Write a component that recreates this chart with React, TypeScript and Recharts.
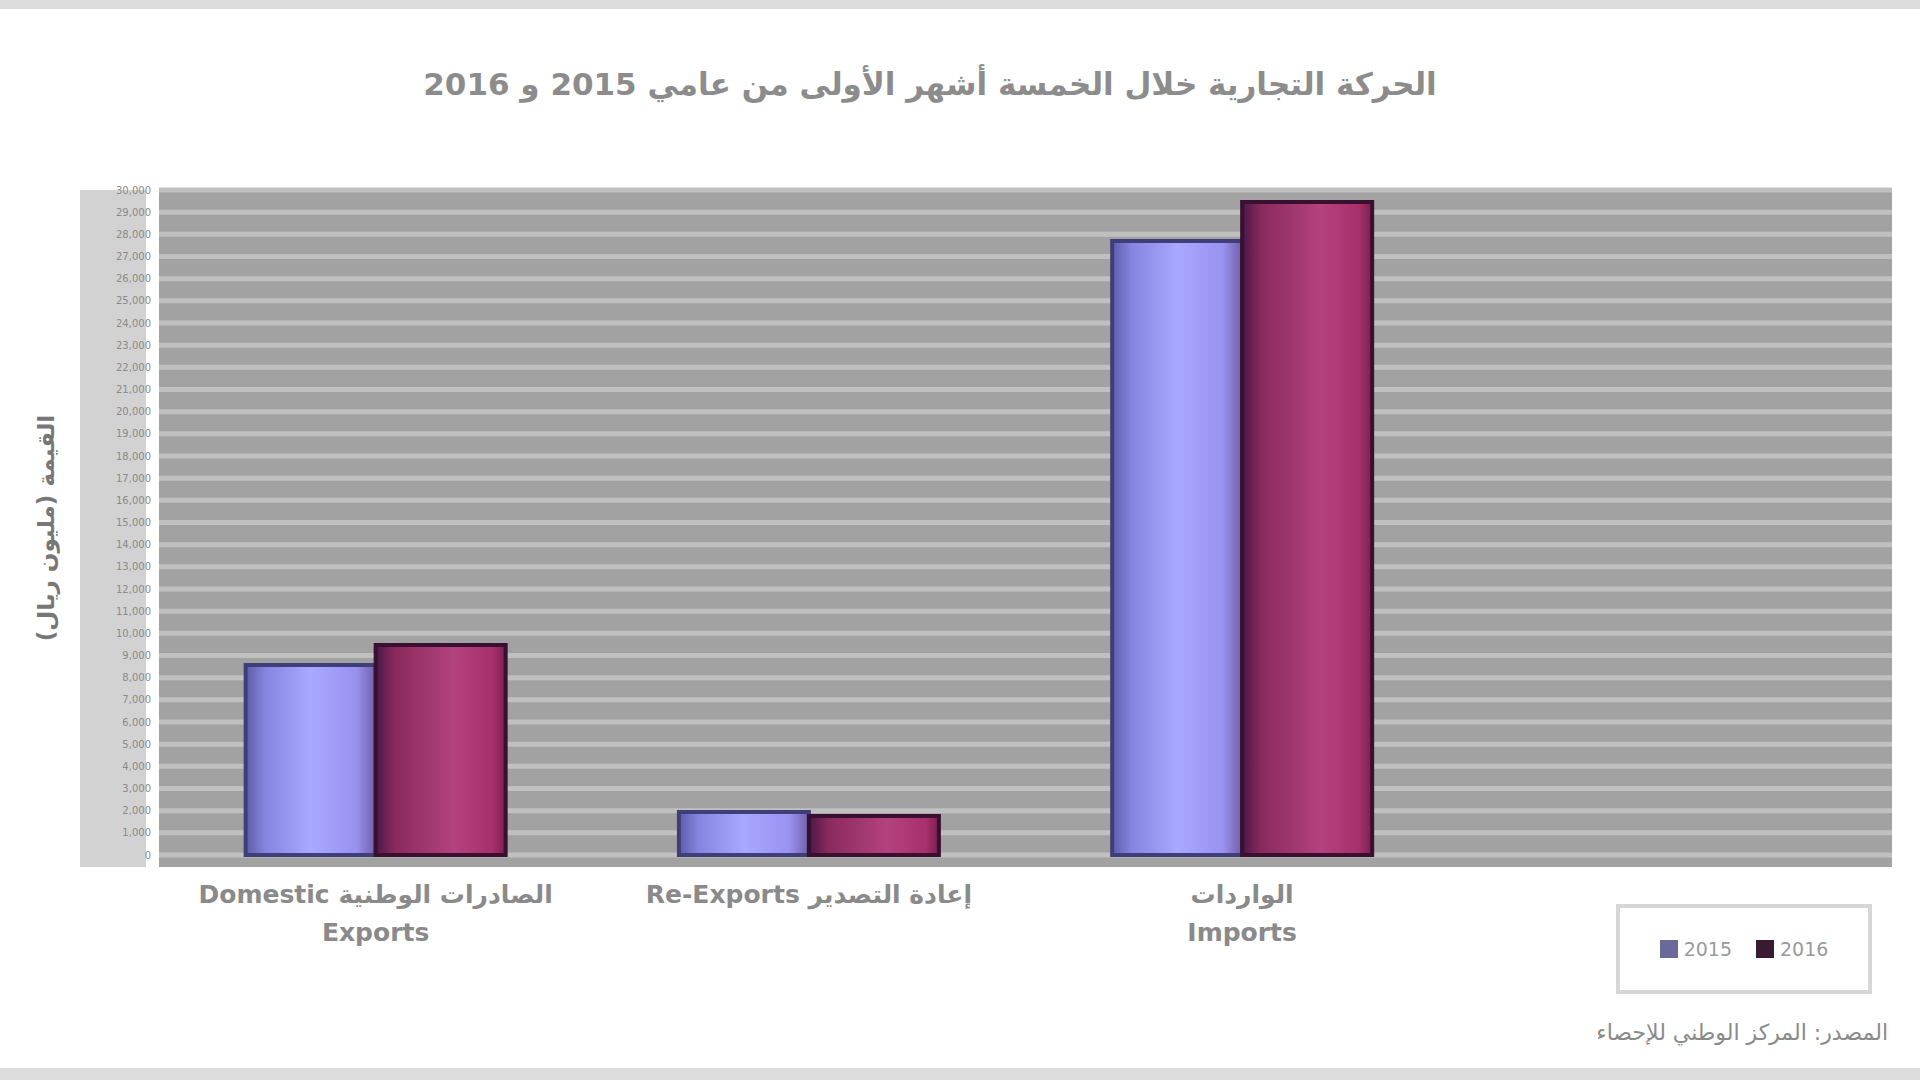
import { BarChart, Bar, XAxis, YAxis, CartesianGrid } from 'recharts';

const categories = ['domestic', 'reexports', 'imports', 'empty'];
const labelLines: Record<string, string[]> = {
  domestic: ['Domestic   الصادرات الوطنية', 'Exports'],
  reexports: ['Re-Exports   إعادة التصدير'],
  imports: ['الواردات', 'Imports'],
  empty: [],
};
const values2015 = [8570, 1940, 27700, 0];
const values2016 = [9470, 1760, 29460, 0];
const yTicks = Array.from({ length: 31 }, (_, i) => i * 1000);

const data = categories.map((c, i) => ({
  name: c,
  y2015: values2015[i],
  y2016: values2016[i],
}));

const CategoryTick = ({ x, y, payload }: any) => {
  const lines = labelLines[payload.value] || [];
  return (
    <g>
      {lines.map((t, i) => (
        <text
          key={i}
          x={x}
          y={y + 40 + i * 38}
          textAnchor="middle"
          fontSize={25}
          fontWeight={600}
          fill="#8a8a8a"
          fontFamily="'DejaVu Sans', sans-serif"
        >
          {t}
        </text>
      ))}
    </g>
  );
};

export default function App() {
  return (
    <div
      style={{
        position: 'absolute',
        left: 0,
        top: 0,
        width: 1920,
        height: 1080,
        background: '#fff',
        fontFamily: "'DejaVu Sans', sans-serif",
        overflow: 'hidden',
      }}
    >
      <div style={{ position: 'absolute', left: 0, top: 0, width: 1920, height: 9, background: '#dcdcdc' }} />
      <div style={{ position: 'absolute', left: 0, top: 1068, width: 1920, height: 12, background: '#dcdcdc' }} />
      <div
        dir="rtl"
        style={{
          position: 'absolute',
          left: 330,
          width: 1200,
          top: 66,
          textAlign: 'center',
          fontSize: 31,
          fontWeight: 700,
          color: '#8c8c8c',
        }}
      >
        الحركة التجارية خلال الخمسة أشهر الأولى من عامي 2015 و 2016
      </div>
      <div
        dir="rtl"
        style={{
          position: 'absolute',
          left: 46,
          top: 528,
          transform: 'translate(-50%, -50%) rotate(-90deg)',
          fontSize: 23,
          fontWeight: 700,
          color: '#777',
          whiteSpace: 'nowrap',
        }}
      >
        القيمة (مليون ريال)
      </div>
      <svg style={{ position: 'absolute', left: 0, top: 0 }} width={1920} height={1080}>
        <rect x={80} y={190} width={66} height={677} fill="#d2d2d2" />
        <rect x={159} y={190} width={1733} height={677} fill="#a2a2a2" />
      </svg>
      <div style={{ position: 'absolute', left: 0, top: 0 }}>
        <BarChart
          width={1920}
          height={1080}
          data={data}
          margin={{ top: 190, right: 28, bottom: 195, left: 80 }}
          barCategoryGap="20%"
          barGap={0}
        >
          <defs>
            <linearGradient id="g2015" x1="0" y1="0" x2="1" y2="0">
              <stop offset="0%" stopColor="#5c5ca8" />
              <stop offset="15%" stopColor="#8585e0" />
              <stop offset="50%" stopColor="#a8a8ff" />
              <stop offset="85%" stopColor="#9a92f0" />
              <stop offset="100%" stopColor="#7060a8" />
            </linearGradient>
            <linearGradient id="g2016" x1="0" y1="0" x2="1" y2="0">
              <stop offset="0%" stopColor="#4a1848" />
              <stop offset="15%" stopColor="#8a2a5c" />
              <stop offset="60%" stopColor="#b3427e" />
              <stop offset="90%" stopColor="#a8306c" />
              <stop offset="100%" stopColor="#7a2050" />
            </linearGradient>
          </defs>
          <CartesianGrid vertical={false} stroke="#c0c0c0" strokeWidth={5} />
          <XAxis
            dataKey="name"
            tick={<CategoryTick />}
            axisLine={false}
            tickLine={false}
            interval={0}
          />
          <YAxis
            width={79}
            domain={[0, 30000]}
            ticks={yTicks}
            interval={0}
            axisLine={false}
            tickLine={false}
            tick={{ fontSize: 10, fill: '#8a8a8a' }}
            tickFormatter={(v: number) => v.toLocaleString('en-US')}
          />
          <Bar dataKey="y2015" fill="url(#g2015)" stroke="#3e3e78" strokeWidth={4} isAnimationActive={false} />
          <Bar dataKey="y2016" fill="url(#g2016)" stroke="#3a1030" strokeWidth={4} isAnimationActive={false} />
        </BarChart>
      </div>
      <div
        style={{
          position: 'absolute',
          left: 1616,
          top: 904,
          width: 256,
          height: 90,
          border: '4px solid #d6d6d6',
          boxSizing: 'border-box',
          display: 'flex',
          alignItems: 'center',
          justifyContent: 'center',
          gap: 24,
          fontSize: 19,
          color: '#9a9a9a',
        }}
      >
        <span style={{ display: 'flex', alignItems: 'center', gap: 6 }}>
          <span style={{ width: 18, height: 18, background: '#6a6a9a', display: 'inline-block' }} />
          2015
        </span>
        <span style={{ display: 'flex', alignItems: 'center', gap: 6 }}>
          <span style={{ width: 18, height: 18, background: '#3a1a30', display: 'inline-block' }} />
          2016
        </span>
      </div>
      <div
        dir="rtl"
        style={{
          position: 'absolute',
          left: 1530,
          width: 358,
          top: 1020,
          textAlign: 'right',
          fontSize: 22,
          color: '#8a8a8a',
          whiteSpace: 'nowrap',
        }}
      >
        المصدر: المركز الوطني للإحصاء
      </div>
    </div>
  );
}
